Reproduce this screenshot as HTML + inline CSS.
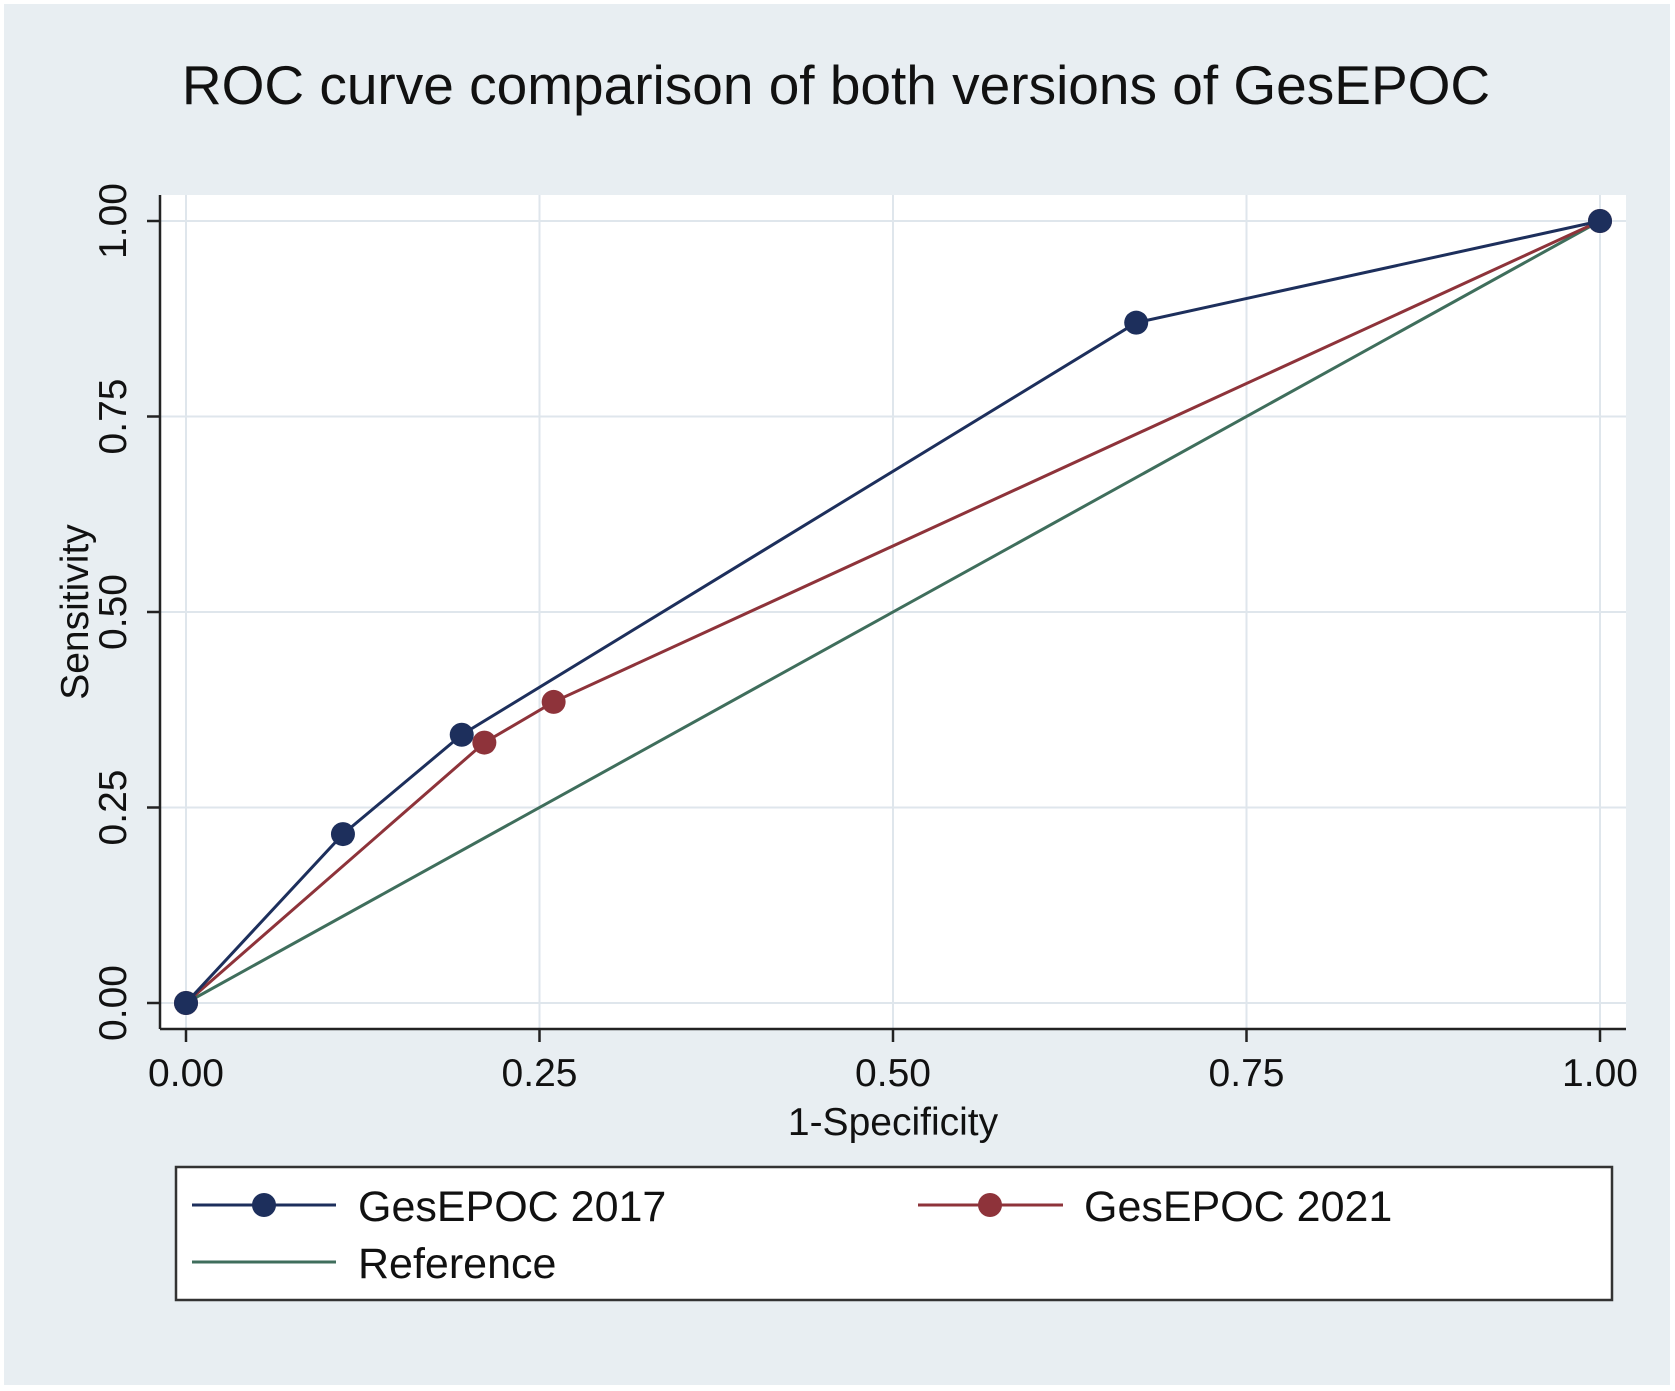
<!DOCTYPE html>
<html><head><meta charset="utf-8"><style>
body{margin:0;background:#fff}
svg{display:block;font-family:"Liberation Sans",Arial,sans-serif}
</style></head><body>
<svg width="1675" height="1391" viewBox="0 0 1675 1391">
<rect x="4" y="4" width="1666" height="1381" fill="#e8eef2"/>
<text x="836" y="104" font-size="55" text-anchor="middle" fill="#111">ROC curve comparison of both versions of GesEPOC</text>
<rect x="160" y="195" width="1466" height="834" fill="#fff"/>
<g id="grid"></g>
<g id="axes"></g>
<g id="series"></g>
<text transform="translate(88,612) rotate(-90)" font-size="39" text-anchor="middle" fill="#111">Sensitivity</text>
<text x="893" y="1135" font-size="39" text-anchor="middle" fill="#111">1-Specificity</text>
<g>
<rect x="176" y="1167" width="1436" height="133" fill="#fff" stroke="#333" stroke-width="2.5"/>
<line x1="192" y1="1205" x2="336" y2="1205" stroke="#1d2f5c" stroke-width="3"/>
<circle cx="264" cy="1205" r="12" fill="#1d2f5c"/>
<text x="358" y="1221" font-size="43" fill="#111">GesEPOC 2017</text>
<line x1="918" y1="1205" x2="1063" y2="1205" stroke="#8e333a" stroke-width="3"/>
<circle cx="990" cy="1205" r="12" fill="#8e333a"/>
<text x="1084" y="1221" font-size="43" fill="#111">GesEPOC 2021</text>
<line x1="192" y1="1262" x2="336" y2="1262" stroke="#3f6e5c" stroke-width="3"/>
<text x="358" y="1278" font-size="43" fill="#111">Reference</text>
</g>
</svg>
<script>
const ticks=[0,0.25,0.5,0.75,1];
const tickLabels=["0.00","0.25","0.50","0.75","1.00"];
const x2017=[0,0.111,0.195,0.672,1];
const y2017=[0,0.216,0.343,0.87,1];
const x2021=[0,0.211,0.26,1];
const y2021=[0,0.333,0.385,1];
const xRef=[0,1];
const yRef=[0,1];
const NS="http://www.w3.org/2000/svg";
const X=v=>186+v*1414, Y=v=>1003-v*782;
function mk(tag,attrs,parent){const e=document.createElementNS(NS,tag);for(const k in attrs)e.setAttribute(k,attrs[k]);document.getElementById(parent).appendChild(e);return e;}
ticks.forEach((t,i)=>{
 let g=mk('line',{x1:X(t),x2:X(t),y1:195,y2:1029,stroke:'#dfe6ec','stroke-width':2},'grid');
 
 
 g=mk('line',{x1:160,x2:1626,y1:Y(t),y2:Y(t),stroke:'#dfe6ec','stroke-width':2},'grid');
 
 
 let tk=mk('line',{x1:X(t),x2:X(t),y1:1029,y2:1042,stroke:'#222','stroke-width':2.5},'axes');
 
 
 tk=mk('line',{x1:147,x2:160,y1:Y(t),y2:Y(t),stroke:'#222','stroke-width':2.5},'axes');
 
 
 let tx=mk('text',{x:X(t),y:1086,'font-size':39,'text-anchor':'middle',fill:'#111'},'axes');
 tx.textContent=tickLabels[i];
 
 
 tx=mk('text',{transform:`translate(126,${Y(t)}) rotate(-90)`,'font-size':39,'text-anchor':'middle',fill:'#111'},'axes');
 tx.textContent=tickLabels[i];
 
 
});
let ax=mk('line',{x1:160,x2:160,y1:195,y2:1029,stroke:'#222','stroke-width':2.5},'axes');


ax=mk('line',{x1:160,x2:1626,y1:1029,y2:1029,stroke:'#222','stroke-width':2.5},'axes');


function series(xs,ys,color,name,markers){
 const p=mk('polyline',{points:xs.map((v,i)=>X(v)+','+Y(ys[i])).join(' '),fill:'none',stroke:color,'stroke-width':3},'series');
 
 
 if(markers)xs.forEach((v,i)=>{
  const c=mk('circle',{cx:X(v),cy:Y(ys[i]),r:12,fill:color},'series');
  
  
 });
}
series(xRef,yRef,'#3f6e5c','reference',false);
series(x2021,y2021,'#8e333a','gesepoc-2021',true);
series(x2017,y2017,'#1d2f5c','gesepoc-2017',true);
</script>
</body></html>
